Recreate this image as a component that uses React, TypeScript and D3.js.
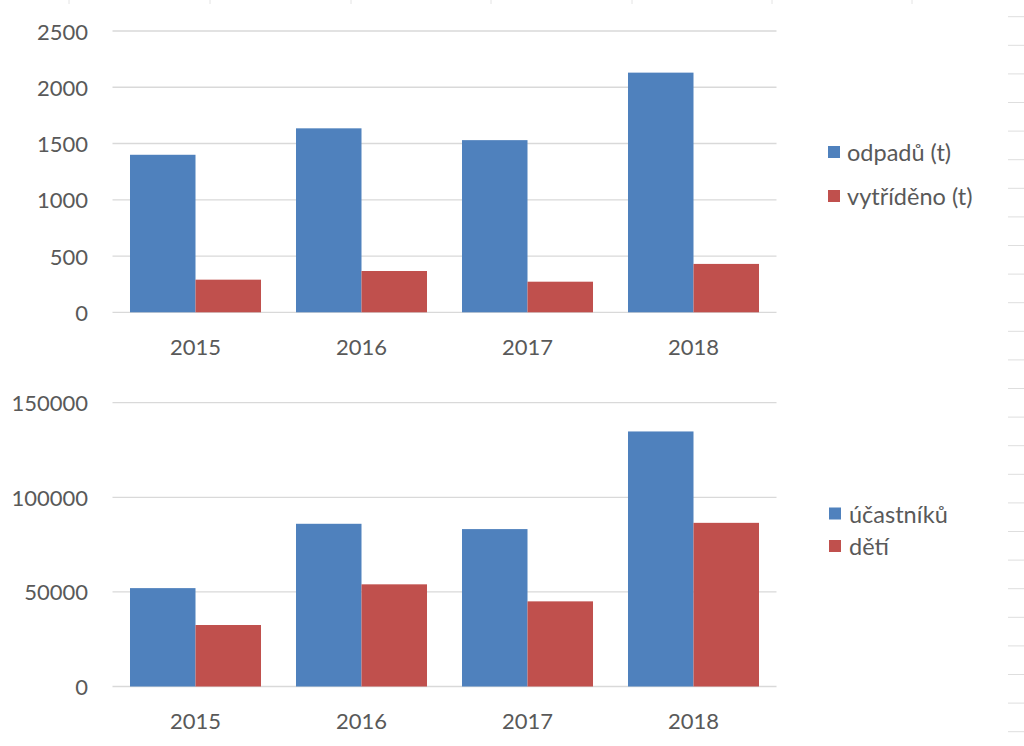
import React from 'react';
import * as d3 from 'd3';

const years = ['2015', '2016', '2017', '2018'];

const wasteSeries = ['odpadů (t)', 'vytříděno (t)'];
const wasteTotal = [1400, 1635, 1530, 2130];
const wasteSorted = [290, 367, 272, 430];
const wasteTicks = [0, 500, 1000, 1500, 2000, 2500];

const peopleSeries = ['účastníků', 'dětí'];
const participants = [52000, 86000, 83200, 134800];
const children = [32500, 54000, 45000, 86500];
const peopleTicks = [0, 50000, 100000, 150000];

const colors = ['#4f81bd', '#c0504d'];
const textColor = '#595959';
const gridColor = '#d9d9d9';
const fontFamily = 'Lato, "Open Sans", sans-serif';
const fontSize = 22;
const legendFontSize = 23.5;

type PanelProps = {
  series: string[];
  values: number[][];
  ticks: number[];
  yBottom: number;
  yTop: number;
  yearLabelY: number;
  legendX: number;
  legendTextX: number;
  legendYs: number[];
};

function Panel({ series, values, ticks, yBottom, yTop, yearLabelY, legendX, legendTextX, legendYs }: PanelProps) {
  const x0 = d3.scaleBand<string>().domain(years).range([112.5, 776.5]).paddingInner(0.2108).paddingOuter(0.1054);
  const x1 = d3.scaleBand<string>().domain(series).range([0, x0.bandwidth()]).padding(0);
  const y = d3.scaleLinear().domain([0, ticks[ticks.length - 1]]).range([yBottom, yTop]);
  return (
    <g>
      {ticks.map((t) => (
        <g key={t}>
          <line x1={112.5} x2={776.5} y1={y(t)} y2={y(t)} stroke={gridColor} strokeWidth={1.3} />
          <text x={88} y={y(t)} textAnchor="end" dominantBaseline="central" fill={textColor} fontSize={fontSize} fontFamily={fontFamily}>
            {String(t)}
          </text>
        </g>
      ))}
      {years.map((yr, i) => (
        <g key={yr}>
          {series.map((s, j) => (
            <rect
              key={s}
              x={(x0(yr) as number) + (x1(s) as number)}
              y={y(values[j][i])}
              width={x1.bandwidth()}
              height={yBottom - y(values[j][i])}
              fill={colors[j]}
            />
          ))}
          <text x={(x0(yr) as number) + x0.bandwidth() / 2} y={yearLabelY} textAnchor="middle" dominantBaseline="central" fill={textColor} fontSize={fontSize} fontFamily={fontFamily}>
            {yr}
          </text>
        </g>
      ))}
      {series.map((s, j) => (
        <g key={s}>
          <rect x={legendX} y={legendYs[j] - 6} width={12} height={12} fill={colors[j]} />
          <text x={legendTextX} y={legendYs[j]} dominantBaseline="central" fill={textColor} fontSize={legendFontSize} fontFamily={fontFamily}>
            {s}
          </text>
        </g>
      ))}
    </g>
  );
}

const rowLines = d3.range(16.7, 746, 28.6);
const colMarks = [69, 210, 351, 491, 632, 772, 912];

export default function App() {
  return (
    <svg width={1024} height={746} style={{ position: 'absolute', left: 0, top: 0, background: '#ffffff' }}>
      <rect width={1024} height={746} fill="#ffffff" />
      {rowLines.map((ry) => (
        <line key={ry} x1={1008} x2={1024} y1={ry} y2={ry} stroke="#dedede" strokeWidth={1} />
      ))}
      {colMarks.map((cx) => (
        <line key={cx} x1={cx} x2={cx} y1={0} y2={4} stroke="#e4e4e4" strokeWidth={1} />
      ))}
      <Panel
        series={wasteSeries}
        values={[wasteTotal, wasteSorted]}
        ticks={wasteTicks}
        yBottom={312.3}
        yTop={31}
        yearLabelY={346}
        legendX={828}
        legendTextX={847}
        legendYs={[152, 196]}
      />
      <Panel
        series={peopleSeries}
        values={[participants, children]}
        ticks={peopleTicks}
        yBottom={686.5}
        yTop={402.7}
        yearLabelY={720}
        legendX={829}
        legendTextX={849}
        legendYs={[513.5, 546]}
      />
    </svg>
  );
}
